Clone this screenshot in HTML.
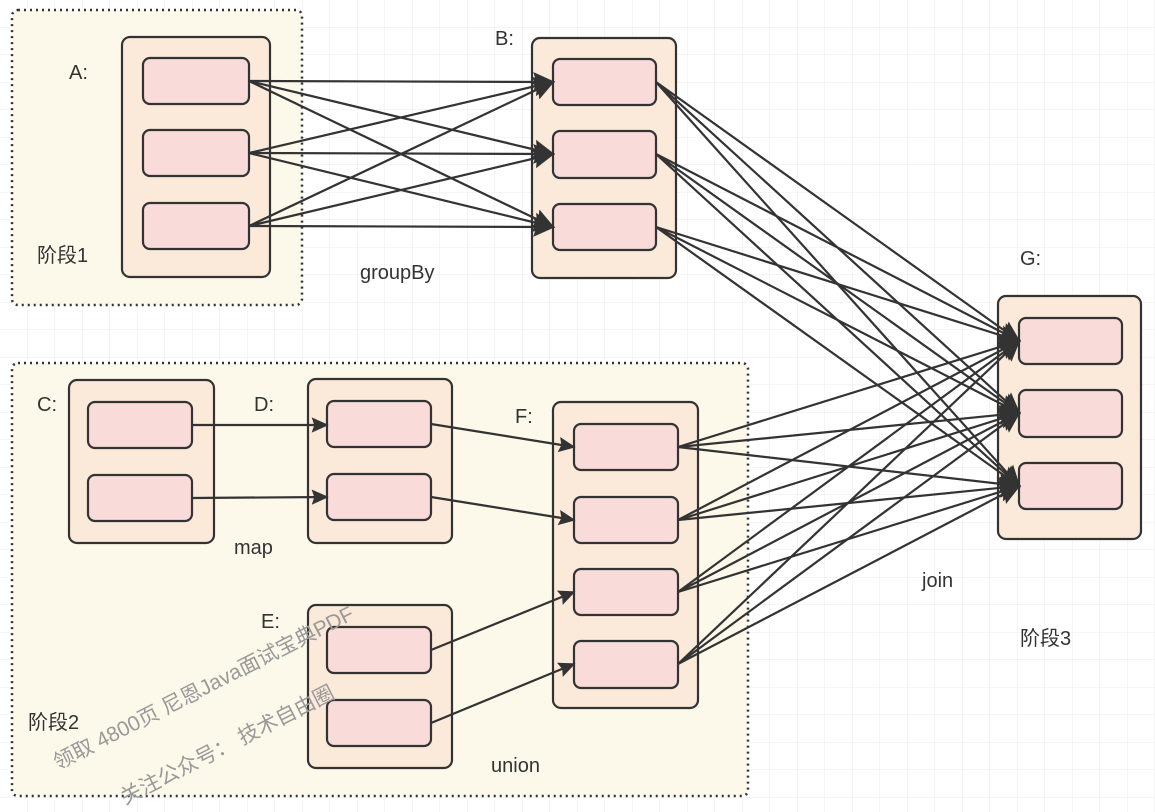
<!DOCTYPE html>
<html><head><meta charset="utf-8"><style>
html,body{margin:0;padding:0;background:#fff}
svg{display:block}
text{font-family:"Liberation Sans","Noto Sans CJK SC",sans-serif;font-size:20px;fill:#333}
</style></head><body>
<svg width="1155" height="812" viewBox="0 0 1155 812" xmlns="http://www.w3.org/2000/svg">
<defs>
<pattern id="g" width="27.5" height="27.5" patternUnits="userSpaceOnUse" x="0" y="0">
<path d="M27.5 0V27.5M0 27.5H27.5" stroke="#ebebeb" stroke-width="1" fill="none"/>
</pattern>
<marker id="ar" viewBox="0 0 10 10" refX="9" refY="5" markerWidth="22" markerHeight="22" markerUnits="userSpaceOnUse" orient="auto">
<path d="M0 0.5L10 5L0 9.5L1.5 5z" fill="#333"/>
</marker>
<marker id="sm" viewBox="0 0 10 10" refX="9" refY="5" markerWidth="17" markerHeight="17" markerUnits="userSpaceOnUse" orient="auto">
<path d="M0 0.5L10 5L0 9.5L1.5 5z" fill="#333"/>
</marker>
</defs>
<rect width="1155" height="812" fill="url(#g)"/>
<rect x="12" y="10" width="290" height="295" rx="6" fill="#fcf8ea" stroke="#333" stroke-width="2.5" stroke-dasharray="2 4"/>
<rect x="12" y="363" width="736" height="433" rx="6" fill="#fcf8ea" stroke="#333" stroke-width="2.5" stroke-dasharray="2 4"/>
<g fill="#fbe9da" stroke="#333" stroke-width="2.2">
<rect x="122" y="37" width="148" height="240" rx="8"/>
<rect x="532" y="38" width="144" height="240" rx="8"/>
<rect x="998" y="296" width="143" height="243" rx="8"/>
<rect x="69" y="380" width="145" height="163" rx="8"/>
<rect x="308" y="379" width="144" height="164" rx="8"/>
<rect x="308" y="605" width="144" height="163" rx="8"/>
<rect x="553" y="402" width="145" height="306" rx="8"/>
</g>
<g fill="#f9dcd9" stroke="#333" stroke-width="2.2">
<rect x="143" y="58" width="106" height="46" rx="7"/><rect x="143" y="130" width="106" height="46" rx="7"/><rect x="143" y="203" width="106" height="46" rx="7"/>
<rect x="553" y="59" width="103" height="46" rx="7"/><rect x="553" y="131" width="103" height="47" rx="7"/><rect x="553" y="204" width="103" height="46" rx="7"/>
<rect x="1019" y="318" width="103" height="46" rx="7"/><rect x="1019" y="390" width="103" height="47" rx="7"/><rect x="1019" y="463" width="103" height="46" rx="7"/>
<rect x="88" y="402" width="104" height="46" rx="7"/><rect x="88" y="475" width="104" height="46" rx="7"/>
<rect x="327" y="401" width="104" height="46" rx="7"/><rect x="327" y="474" width="104" height="46" rx="7"/>
<rect x="327" y="627" width="104" height="46" rx="7"/><rect x="327" y="700" width="104" height="46" rx="7"/>
<rect x="574" y="424" width="104" height="46" rx="7"/><rect x="574" y="497" width="104" height="46" rx="7"/><rect x="574" y="569" width="104" height="46" rx="7"/><rect x="574" y="641" width="104" height="47" rx="7"/>
</g>
<g stroke="#333" stroke-width="2.2" fill="none" marker-end="url(#ar)">
<path d="M249 81L553 82"/><path d="M249 81L553 154"/><path d="M249 81L553 227"/>
<path d="M249 153L553 82"/><path d="M249 153L553 154"/><path d="M249 153L553 227"/>
<path d="M249 226L553 82"/><path d="M249 226L553 154"/><path d="M249 226L553 227"/>
<path d="M656 82L1019 341"/><path d="M656 82L1019 413"/><path d="M656 82L1019 486"/>
<path d="M656 154L1019 341"/><path d="M656 154L1019 413"/><path d="M656 154L1019 486"/>
<path d="M656 227L1019 341"/><path d="M656 227L1019 413"/><path d="M656 227L1019 486"/>
<path d="M678 447L1019 341"/><path d="M678 447L1019 413"/><path d="M678 447L1019 486"/>
<path d="M678 520L1019 341"/><path d="M678 520L1019 413"/><path d="M678 520L1019 486"/>
<path d="M678 592L1019 341"/><path d="M678 592L1019 413"/><path d="M678 592L1019 486"/>
<path d="M678 664L1019 341"/><path d="M678 664L1019 413"/><path d="M678 664L1019 486"/>
</g>
<g stroke="#333" stroke-width="2.2" fill="none" marker-end="url(#sm)">
<path d="M192 425L327 425"/><path d="M192 498L327 497"/>
<path d="M431 424L574 447"/><path d="M431 497L574 520"/>
<path d="M431 650L574 592"/><path d="M431 723L574 664"/>
</g>
<text x="69" y="79">A:</text><text x="495" y="45">B:</text><text x="1020" y="265">G:</text>
<text x="360" y="279">groupBy</text>
<text x="37" y="411">C:</text><text x="254" y="411">D:</text><text x="515" y="423">F:</text><text x="261" y="628">E:</text>
<text x="234" y="554">map</text><text x="491" y="772">union</text><text x="922" y="587">join</text>
<text x="37" y="262">阶段1</text><text x="28" y="729">阶段2</text><text x="1020" y="645">阶段3</text>
<g transform="rotate(-27 58 770)"><text x="58" y="770" style="fill:#999;font-size:21px">领取 4800页 尼恩Java面试宝典PDF</text></g>
<g transform="rotate(-27 125 805)"><text x="125" y="805" style="fill:#999;font-size:21px">关注公众号：  技术自由圈</text></g>
</svg>
</body></html>
